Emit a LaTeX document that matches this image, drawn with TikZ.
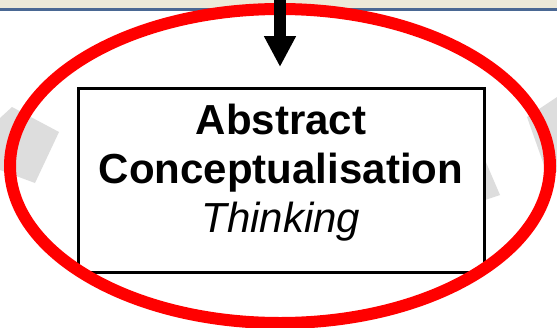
\documentclass[tikz,border=0pt]{standalone}
\usepackage{fontspec}
\setmainfont{Liberation Sans}
\usetikzlibrary{arrows.meta,shapes.geometric}
\definecolor{band}{HTML}{ECE9D8}
\definecolor{bandline}{HTML}{4A6893}
\definecolor{ghost}{HTML}{DDDDDD}
\tikzset{
  conceptbox/.style={draw=black, line width=3pt, fill=white, minimum width=406pt, minimum height=184pt, inner sep=0pt},
  ring/.style={draw=red, line width=12pt, ellipse, inner sep=0pt},
  bigarrow/.style={line width=12pt, -{Triangle[length=31pt,width=30pt]}},
  boxtext/.style={align=center, inner sep=0pt, font=\fontsize{42}{49}\selectfont}
}
\begin{document}
\begin{tikzpicture}[x=1pt,y=-1pt]
\useasboundingbox (0,0) rectangle (557,327);
\fill[white] (0,0) rectangle (557,327);
% top band
\fill[band] (0,0) rectangle (557,8);
\fill[bandline] (0,8) rectangle (557,11);
% gray background shapes
\fill[ghost] (0,118) -- (12,107) -- (59,132) -- (35,183) -- (0,170) -- cycle;
\fill[ghost] (557,97) -- (527,117) -- (545,168) -- (557,172) -- cycle;
\fill[ghost] (485,160) -- (500,195) -- (485,200) -- cycle;
% box
\node[conceptbox] (box) at (281,180) {};
\node[boxtext] (label) at (281,173) {\textbf{Abstract}\\ \textbf{Conceptualisation}\\ \textit{Thinking}};
% red ellipse
\node[ring, minimum width=540pt, minimum height=314pt] (ring) at (280,166) {};
% arrow
\coordinate (arrowtop) at (280,0);
\coordinate (arrowtip) at (280,67);
\draw[bigarrow] (arrowtop) -- (arrowtip);
\end{tikzpicture}
\end{document}
